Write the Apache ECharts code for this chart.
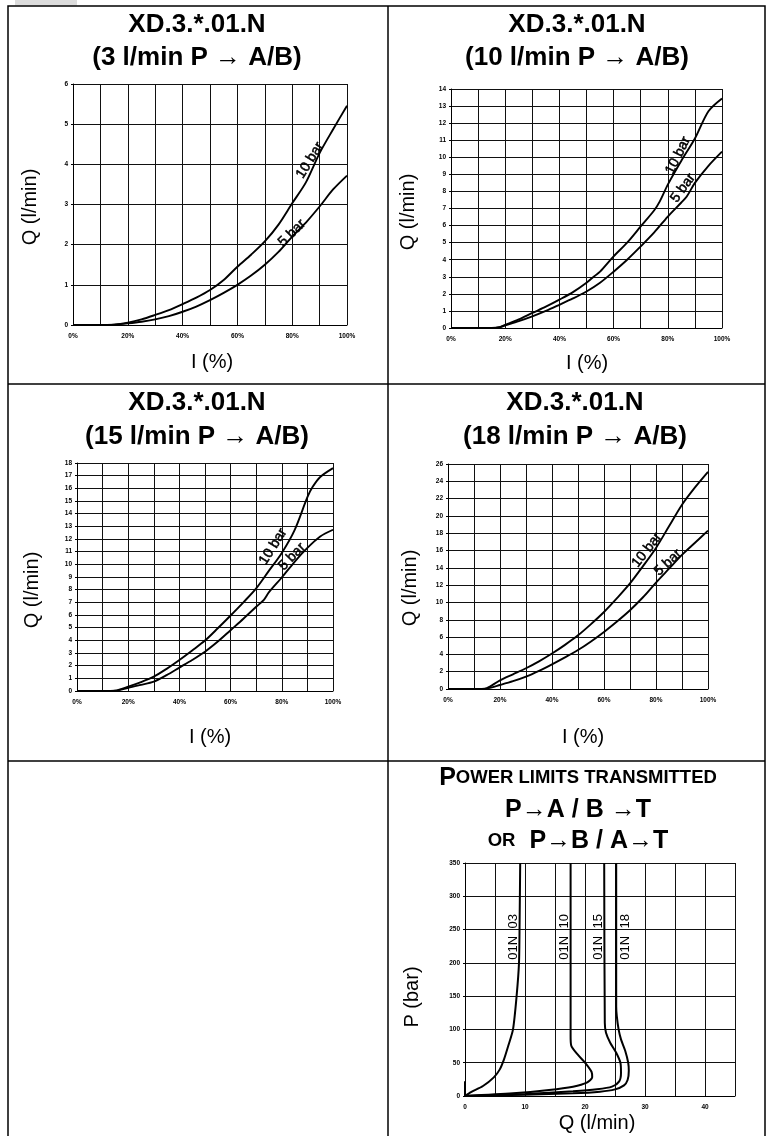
<!DOCTYPE html>
<html>
<head>
<meta charset="utf-8">
<script src="https://cdn.jsdelivr.net/npm/echarts@6/dist/echarts.min.js"></script>
<style>
html,body{margin:0;padding:0;background:#fff;}
#c{width:767px;height:1136px;}
</style>
</head>
<body>
<div id="c"></div>
<script>
// ---------- DATA ----------
// Panel 1: 3 l/min
const p1X   = [0,10,15,20,25,30,35,40,45,50,55,60,65,70,75,80,85,90,95,100];
const p1Q10 = [0,0,0.01,0.06,0.14,0.25,0.37,0.52,0.68,0.87,1.12,1.45,1.75,2.08,2.5,3.03,3.55,4.28,4.88,5.46];
const p1Q5  = [0,0,0.01,0.04,0.08,0.14,0.22,0.33,0.46,0.62,0.8,1.0,1.23,1.5,1.82,2.2,2.55,2.95,3.38,3.72];
// Panel 2: 10 l/min
const p2X   = [0,10,15,18,20,25,30,35,40,45,50,53,55,60,65,70,75,77,80,85,90,95,100];
const p2Q10 = [0,0,0,0.05,0.18,0.5,0.88,1.25,1.66,2.1,2.65,3.05,3.3,4.2,5.0,5.95,6.9,7.4,8.4,9.8,11.1,12.7,13.45];
const p2X5  = [0,10,15,18,20,25,30,35,40,45,50,55,60,65,70,75,80,85,87,90,95,100];
const p2Q5  = [0,0,0,0.05,0.15,0.4,0.68,1.0,1.36,1.73,2.14,2.65,3.3,4.0,4.78,5.6,6.53,7.35,7.7,8.5,9.5,10.33];
// Panel 3: 15 l/min
const p3X   = [0,10,15,20,25,30,35,40,45,50,55,60,65,70,75,80,85,90,92,95,100];
const p3Q10 = [0,0,0.03,0.34,0.7,1.13,1.75,2.45,3.2,3.98,4.95,5.96,7.0,8.1,9.5,10.9,12.7,15.3,16.1,16.9,17.6];
const p3X5  = [0,10,15,20,25,30,35,40,45,50,55,60,65,70,73,75,80,85,90,95,100];
const p3Q5  = [0,0,0.02,0.25,0.48,0.74,1.25,1.85,2.45,3.1,3.9,4.8,5.7,6.65,7.2,7.8,8.96,10.2,11.3,12.2,12.73];
// Panel 4: 18 l/min
const p4X   = [0,10,13,15,20,25,30,35,40,45,50,55,60,65,70,75,80,85,90,95,100];
const p4Q10 = [0,0,0,0.1,1.0,1.7,2.4,3.2,4.1,5.1,6.2,7.5,8.9,10.5,12.2,14.2,16.3,18.8,21.3,23.3,25.1];
const p4Q5  = [0,0,0,0.05,0.46,0.9,1.43,2.1,2.85,3.65,4.5,5.5,6.6,7.8,9.1,10.6,12.3,13.9,15.5,16.9,18.3];
// Panel 5: power limits (Q l/min, P bar)
const n03Q = [0,0,1,3,4.8,5.8,6.5,7.2,8.0,8.6,9.0,9.1,9.2];
const n03P = [22,0,6,15,28,40,55,75,100,150,200,260,350];
const n10Q = [0,8,14,18,20.3,21.2,21.1,20.2,18.8,17.7,17.6,17.6];
const n10P = [0,4,9,14,20,28,36,48,62,76,90,350];
const n15Q = [0,10,18,22,24.5,25.7,26,25.9,25.2,24.2,23.5,23.3,23.2];
const n15P = [0,3,7,10,14,22,35,50,65,80,95,110,350];
const n18Q = [0,10,18,22.5,25,26.5,27.1,27.3,27.2,26.7,26,25.6,25.3,25.2,25.2];
const n18P = [0,2,4,6.5,10,16,24,38,50,68,85,100,120,135,350];

const pctTicks = ['0%','20%','40%','60%','80%','100%'];
const titles1 = ['XD.3.*.01.N','XD.3.*.01.N','XD.3.*.01.N','XD.3.*.01.N'];
const titles2 = ['(3 l/min P \u2192 A/B)','(10 l/min P \u2192 A/B)','(15 l/min P \u2192 A/B)','(18 l/min P \u2192 A/B)'];
const curveNames = ['10 bar','5 bar'];
const limitNames = ['01N  03','01N  10','01N  15','01N  18'];

// ---------- BUILD ----------
const zip = (xs, ys) => xs.map((x,i)=>[x, ys[i]]);
const grids = [
  {left:73, top:84, width:274, height:241},
  {left:451, top:89, width:271, height:239},
  {left:77, top:463, width:256, height:228},
  {left:448, top:464, width:260, height:225},
  {left:465, top:863, width:270, height:233}
];
const tickFont = {fontSize:6.5, color:'#000', fontFamily:'Liberation Sans', fontWeight:'bold'};
const split = {show:true, lineStyle:{color:'#111', width:1}};
const axLine = {show:true, lineStyle:{color:'#000', width:1}};
const xAxes = [];
const yAxes = [];
for (let i=0;i<4;i++){
  xAxes.push({type:'value', gridIndex:i, min:0, max:100, interval:10,
    axisLine:axLine, axisTick:{show:false}, splitLine:split,
    axisLabel:Object.assign({margin:8, formatter:v=> (v%20===0? pctTicks[v/20] : '')}, tickFont)});
}
xAxes.push({type:'value', gridIndex:4, min:0, max:45, interval:5,
  axisLine:axLine, axisTick:{show:false}, splitLine:split,
  axisLabel:Object.assign({margin:8, formatter:v=> (v%10===0? String(v) : '')}, tickFont)});
const yMax = [6,14,18,26,350];
const yInt = [1,1,1,2,50];
for (let i=0;i<5;i++){
  yAxes.push({type:'value', gridIndex:i, min:0, max:yMax[i], interval:yInt[i],
    axisLine:axLine, axisTick:{show:true, length:2, lineStyle:{color:'#000'}}, splitLine:split,
    axisLabel:Object.assign({margin:5}, tickFont)});
}
const lineStyle = {color:'#000', width:1.9};
const series = [];
const curves = [
  [zip(p1X,p1Q10), zip(p1X,p1Q5)],
  [zip(p2X,p2Q10), zip(p2X5,p2Q5)],
  [zip(p3X,p3Q10), zip(p3X5,p3Q5)],
  [zip(p4X,p4Q10), zip(p4X,p4Q5)]
];
curves.forEach((pair,i)=>{
  pair.forEach((d,j)=>{
    series.push({type:'line', name:curveNames[j]+' '+i, xAxisIndex:i, yAxisIndex:i, data:d,
      smooth:0.3, showSymbol:false, symbol:'none', lineStyle:lineStyle, silent:true});
  });
});
// curve labels (anchor in data space, rotation in degrees)
const curveLabelAnchors = [
  [[86.5,4.1,58],[79.9,2.29,45]],
  [[83.8,10.1,64],[85.6,8.2,54]],
  [[76.6,11.4,58],[84,10.6,46]],
  [[76.5,16.06,52],[84.6,14.6,43]]
];
const labelStyle = {fontSize:14, color:'#000', opacity:1, textBorderColor:'#000', textBorderWidth:0.5, fontFamily:'Liberation Sans'};
curveLabelAnchors.forEach((pair,i)=>{
  series.push({type:'scatter', xAxisIndex:i, yAxisIndex:i, symbolSize:0, silent:true, z:5,
    itemStyle:{opacity:1, color:'#000'},
    data: pair.map((a,j)=>({value:[a[0],a[1]], label:Object.assign({show:true, formatter:curveNames[j], rotate:a[2],
      position:'inside'}, labelStyle)}))});
});
[zip(n03Q,n03P), zip(n10Q,n10P), zip(n15Q,n15P), zip(n18Q,n18P)].forEach((d,k)=>{
  series.push({type:'line', xAxisIndex:4, yAxisIndex:4, data:d, smooth:0.25,
    showSymbol:false, symbol:'none', lineStyle:{color:'#000', width:2}, silent:true});
});
const limitLabelQ = [8.0,16.5,22.2,26.8];
series.push({type:'scatter', xAxisIndex:4, yAxisIndex:4, symbolSize:0, silent:true, z:5,
  itemStyle:{opacity:1, color:'#000'},
  data: limitLabelQ.map((q,k)=>({value:[q,239], label:{show:true, formatter:limitNames[k], rotate:90,
    position:'inside', fontSize:13, color:'#000', opacity:1, textBorderWidth:0, fontFamily:'Liberation Sans'}}))});

// ---------- GRAPHICS (frame, titles, axis names) ----------
const g = [];
g.push({type:'rect', shape:{x:15,y:0,width:62,height:5.5}, style:{fill:'#dcdcdc'}, silent:true});
g.push({type:'rect', shape:{x:8,y:6,width:757,height:1140}, style:{fill:'none', stroke:'#000', lineWidth:1.5}, silent:true});
g.push({type:'line', shape:{x1:388,y1:6,x2:388,y2:1136}, style:{stroke:'#000', lineWidth:1.5}, silent:true});
g.push({type:'line', shape:{x1:8,y1:384,x2:765,y2:384}, style:{stroke:'#000', lineWidth:1.5}, silent:true});
g.push({type:'line', shape:{x1:8,y1:761,x2:765,y2:761}, style:{stroke:'#000', lineWidth:1.5}, silent:true});
const titleFont = 'bold 26px "Liberation Sans", Arial, sans-serif';
const axisFont = '20px "Liberation Sans", Arial, sans-serif';
const titlePos = [[197,25,58],[577,25,58],[197,403,437],[575,403,437]];
titlePos.forEach((p,i)=>{
  g.push({type:'text', style:{x:p[0], y:p[1], text:titles1[i], font:titleFont, fill:'#000', align:'center', verticalAlign:'middle'}, silent:true});
  g.push({type:'text', style:{x:p[0], y:p[2], text:titles2[i], font:titleFont, fill:'#000', align:'center', verticalAlign:'middle'}, silent:true});
});
const yNamePos = [[30,207],[408,212],[32,590],[410,588]];
yNamePos.forEach(p=>{
  g.push({type:'text', x:p[0], y:p[1], rotation:Math.PI/2, style:{x:0,y:0,text:'Q (l/min)', font:axisFont, fill:'#000', align:'center', verticalAlign:'middle'}, silent:true});
});
const xNamePos = [[212,362],[587,363],[210,737],[583,737]];
xNamePos.forEach(p=>{
  g.push({type:'text', style:{x:p[0], y:p[1], text:'I (%)', font:axisFont, fill:'#000', align:'center', verticalAlign:'middle'}, silent:true});
});
g.push({type:'text', x:412, y:997, rotation:Math.PI/2, style:{x:0,y:0,text:'P (bar)', font:axisFont, fill:'#000', align:'center', verticalAlign:'middle'}, silent:true});
g.push({type:'text', style:{x:597, y:1123, text:'Q (l/min)', font:axisFont, fill:'#000', align:'center', verticalAlign:'middle'}, silent:true});
const rich = {
  b:{fontSize:25, fontWeight:'bold', fontFamily:'Liberation Sans', fill:'#000', color:'#000'},
  s:{fontSize:18.5, fontWeight:'bold', fontFamily:'Liberation Sans', fill:'#000', color:'#000'}
};
g.push({type:'text', style:{x:578, y:778, text:'{b|P}{s|OWER LIMITS TRANSMITTED}', rich:rich, fill:'#000', align:'center', verticalAlign:'middle'}, silent:true});
g.push({type:'text', style:{x:578, y:810, text:'{b|P\u2192A / B \u2192T}', rich:rich, fill:'#000', align:'center', verticalAlign:'middle'}, silent:true});
g.push({type:'text', style:{x:578, y:841, text:'{s|OR}{b|  P\u2192B / A\u2192T}', rich:rich, fill:'#000', align:'center', verticalAlign:'middle'}, silent:true});

const chart = echarts.init(document.getElementById('c'), null, {renderer:'canvas'});
chart.setOption({
  backgroundColor:'#fff',
  animation:false,
  grid:grids,
  xAxis:xAxes,
  yAxis:yAxes,
  series:series,
  graphic:g
});
</script>
</body>
</html>
